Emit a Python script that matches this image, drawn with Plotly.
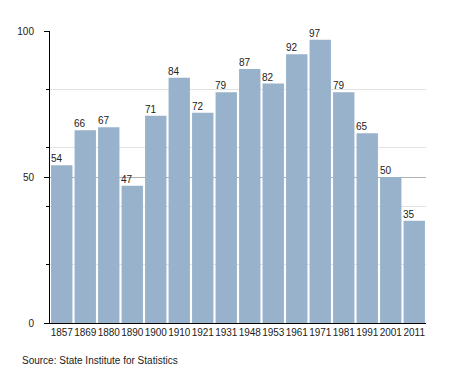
import plotly.graph_objects as go

years = ["1857", "1869", "1880", "1890", "1900", "1910", "1921", "1931",
         "1948", "1953", "1961", "1971", "1981", "1991", "2001", "2011"]
values = [54, 66, 67, 47, 71, 84, 72, 79, 87, 82, 92, 97, 79, 65, 50, 35]
source_text = "Source: State Institute for Statistics"

FONT = "Liberation Sans, Arial, sans-serif"
FS = 10

fig = go.Figure()
fig.add_trace(go.Bar(
    x=years, y=values,
    marker=dict(color="#98b2cb", line=dict(width=0)),
    hoverinfo="x+y",
))

for i, v in enumerate(values):
    fig.add_annotation(
        x=i, y=v, text=str(v), showarrow=False,
        xanchor="left", yanchor="bottom", xshift=-13, yshift=-1,
        font=dict(family=FONT, size=FS, color="#222"),
    )

fig.add_annotation(
    xref="paper", yref="paper", x=-0.08, y=-0.127,
    xanchor="left", yanchor="middle", showarrow=False,
    text=source_text, font=dict(family=FONT, size=FS, color="#222"),
)

fig.update_layout(
    width=447, height=365,
    margin=dict(l=42, r=29, t=23, b=50, autoexpand=False),
    paper_bgcolor="white", plot_bgcolor="white",
    bargap=0.09,
    showlegend=False,
    font=dict(family=FONT, size=FS, color="#222"),
    xaxis=dict(
        type="category", range=[-0.5, len(years) - 0.5], showgrid=False,
        showline=True, linecolor="black", automargin=False, tickangle=0,
        linewidth=1, ticks="", tickfont=dict(size=FS), fixedrange=True,
    ),
    yaxis=dict(
        range=[0, 100], tickvals=[0, 50, 100], showline=True, linecolor="black",
        linewidth=1, ticks="outside", ticklen=5, tickcolor="black", automargin=False,
        showgrid=True, gridcolor="#b0b0b0", gridwidth=1, zeroline=False,
        tickfont=dict(size=FS), ticklabelstandoff=8,
        minor=dict(dtick=20, tick0=0, ticks="outside", ticklen=3, tickcolor="black",
                   showgrid=True, gridcolor="#e2e2e2", gridwidth=1),
    ),
)

fig.write_html("out.html")
